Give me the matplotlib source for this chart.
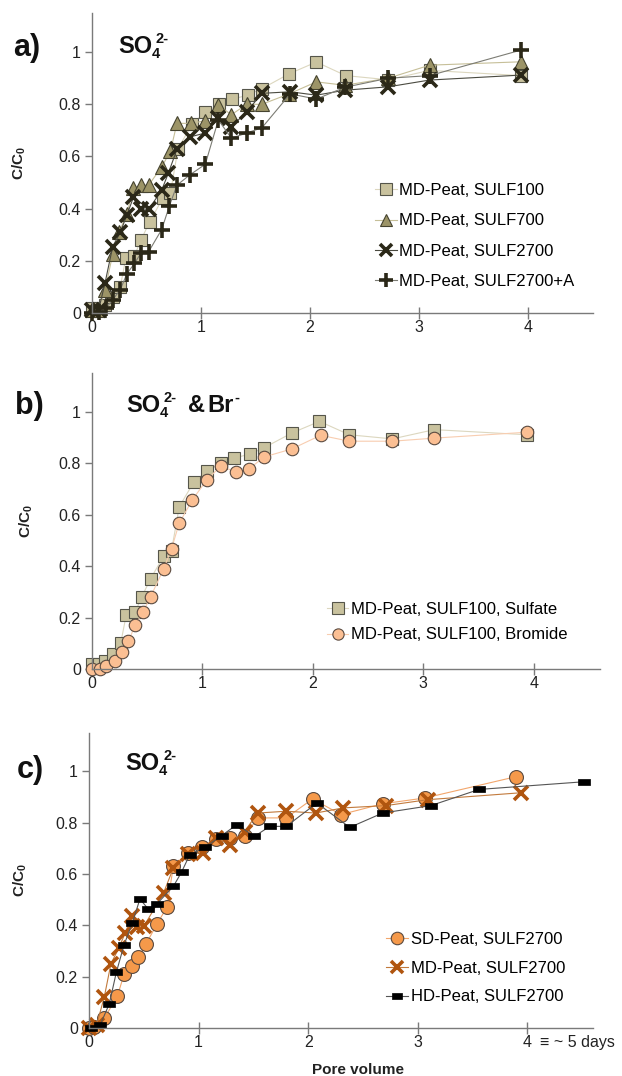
import numpy as np
import matplotlib
matplotlib.use('Agg')
import matplotlib.pyplot as plt

plt.rcParams['font.family'] = ['Liberation Sans', 'DejaVu Sans']
plt.rcParams['mathtext.fontset'] = 'custom'
plt.rcParams['mathtext.rm'] = 'Liberation Sans'
plt.rcParams['mathtext.bf'] = 'Liberation Sans:bold'
plt.rcParams['mathtext.it'] = 'Liberation Sans:italic'

# ---- panel a / b : MD-Peat SULF100 (sulfate)
pv_s100 = [0, 0.06, 0.12, 0.19, 0.26, 0.31, 0.39, 0.45, 0.53, 0.65, 0.72, 0.79,
           0.92, 1.04, 1.17, 1.29, 1.43, 1.56, 1.81, 2.06, 2.33, 2.72, 3.10, 3.94]
c_s100 = [0.02, 0.02, 0.03, 0.06, 0.10, 0.21, 0.22, 0.28, 0.35, 0.44, 0.46, 0.63,
          0.725, 0.77, 0.80, 0.82, 0.835, 0.86, 0.917, 0.962, 0.91, 0.894, 0.93, 0.91]

# MD-Peat SULF700
pv_s700 = [0, 0.06, 0.12, 0.19, 0.25, 0.32, 0.38, 0.45, 0.52, 0.64, 0.72, 0.78,
           0.91, 1.04, 1.16, 1.28, 1.42, 1.56, 1.81, 2.06, 2.32, 2.72, 3.10, 3.94]
c_s700 = [0.01, 0.01, 0.09, 0.225, 0.31, 0.38, 0.478, 0.49, 0.49, 0.56, 0.62, 0.727,
          0.727, 0.737, 0.797, 0.76, 0.80, 0.80, 0.84, 0.886, 0.873, 0.90, 0.95, 0.963]

# MD-Peat SULF2700
pv_s2700 = [0, 0.06, 0.12, 0.19, 0.26, 0.32, 0.38, 0.45, 0.52, 0.64, 0.70, 0.78,
            0.90, 1.04, 1.16, 1.28, 1.42, 1.56, 1.82, 2.06, 2.32, 2.72, 3.10, 3.94]
c_s2700 = [0.01, 0.01, 0.116, 0.254, 0.31, 0.375, 0.443, 0.40, 0.397, 0.471, 0.535, 0.627,
           0.675, 0.69, 0.746, 0.714, 0.771, 0.842, 0.848, 0.835, 0.854, 0.867, 0.893, 0.912]

# MD-Peat SULF2700+A
pv_s2700a = [0, 0.06, 0.13, 0.19, 0.26, 0.32, 0.39, 0.45, 0.52, 0.64, 0.71, 0.78,
             0.90, 1.04, 1.16, 1.28, 1.42, 1.56, 1.82, 2.06, 2.32, 2.72, 3.10, 3.94]
c_s2700a = [0.0, 0.005, 0.02, 0.05, 0.09, 0.15, 0.19, 0.23, 0.235, 0.32, 0.41, 0.49,
            0.53, 0.57, 0.74, 0.67, 0.69, 0.71, 0.84, 0.82, 0.865, 0.90, 0.91, 1.008]

# ---- panel b : bromide
pv_br = [0, 0.07, 0.13, 0.21, 0.27, 0.33, 0.39, 0.46, 0.53, 0.65, 0.72, 0.79,
         0.91, 1.04, 1.17, 1.30, 1.42, 1.56, 1.81, 2.07, 2.33, 2.72, 3.10, 3.94]
c_br = [0.0, 0.0, 0.01, 0.03, 0.065, 0.107, 0.17, 0.22, 0.28, 0.39, 0.467, 0.567,
        0.658, 0.735, 0.79, 0.764, 0.777, 0.824, 0.855, 0.908, 0.885, 0.885, 0.897, 0.92]

# ---- panel c
pv_sd = [0, 0.05, 0.14, 0.26, 0.32, 0.39, 0.45, 0.52, 0.62, 0.71, 0.77, 0.90,
         1.03, 1.16, 1.29, 1.42, 1.54, 1.80, 2.04, 2.30, 2.68, 3.07, 3.90]
c_sd = [0.0, 0.005, 0.038, 0.125, 0.21, 0.243, 0.276, 0.327, 0.405, 0.47, 0.63, 0.683,
        0.707, 0.737, 0.739, 0.747, 0.819, 0.819, 0.893, 0.832, 0.874, 0.897, 0.98]

pv_md = [0, 0.07, 0.14, 0.20, 0.27, 0.33, 0.39, 0.44, 0.50, 0.68, 0.77, 0.905,
         1.04, 1.16, 1.29, 1.42, 1.54, 1.80, 2.07, 2.32, 2.71, 3.09, 3.94]
c_md = [0.0, 0.012, 0.122, 0.25, 0.31, 0.37, 0.435, 0.392, 0.396, 0.526, 0.624, 0.68,
        0.682, 0.74, 0.715, 0.766, 0.838, 0.845, 0.838, 0.858, 0.867, 0.89, 0.917]

pv_hd = [0.02, 0.10, 0.185, 0.25, 0.32, 0.395, 0.465, 0.54, 0.62, 0.77, 0.845, 0.92,
         1.06, 1.21, 1.35, 1.51, 1.65, 1.80, 2.08, 2.38, 2.68, 3.12, 3.56, 4.52]
c_hd = [0.0, 0.01, 0.094, 0.218, 0.324, 0.409, 0.503, 0.464, 0.484, 0.552, 0.608, 0.676,
        0.704, 0.75, 0.793, 0.747, 0.786, 0.786, 0.877, 0.782, 0.838, 0.867, 0.93, 0.96]

yticks = [0, 0.2, 0.4, 0.6, 0.8, 1]
ytick_labels = ['0', '0.2', '0.4', '0.6', '0.8', '1']
xticks = [0, 1, 2, 3, 4]

W, H = 622, 1076
fig = plt.figure(figsize=(W / 100, H / 100), dpi=100)


def px_axes(l, t, r, b):
    return fig.add_axes([l / W, 1 - b / H, (r - l) / W, (b - t) / H])


def ptext(x, y, s, size, **k):
    # text placed at pixel position (x, baseline y)
    fig.text(x / W, 1 - y / H, s, fontsize=size, fontweight='bold',
             va='baseline', ha='left', color='#111111', **k)


def sulfate(x, y):
    ptext(x, y, 'SO', 17)
    ptext(x + 34, y + 5, '4', 10.5)
    ptext(x + 38, y - 10, '2-', 10.5)


def style(ax):
    ax.set_xlim(0, 4.6)
    ax.set_ylim(0, 1.15)
    for s in ['top', 'right']:
        ax.spines[s].set_visible(False)
    for s in ['left', 'bottom']:
        ax.spines[s].set_color('#7a7a7a')
        ax.spines[s].set_linewidth(1.0)
    ax.set_yticks(yticks)
    ax.set_yticklabels(ytick_labels)
    ax.set_xticks(xticks)
    ax.tick_params(axis='y', direction='out', length=5, width=1, color='#7a7a7a',
                   labelsize=11.5, pad=3, labelcolor='#222222')
    ax.tick_params(axis='x', direction='inout', length=8, width=1, color='#7a7a7a',
                   labelsize=11.5, pad=1, labelcolor='#222222')
    ax.set_ylabel('C/C$_\\mathbf{0}$', fontsize=11, fontweight='bold', color='#222222')


kw = dict(clip_on=False, linewidth=0.8)
leg_kw = dict(loc='lower left', frameon=False, fontsize=12, handlelength=1.3,
              handletextpad=0.15, borderpad=0, borderaxespad=0, markerscale=0.9)
bar = [(-1, -0.55), (1, -0.55), (1, 0.55), (-1, 0.55), (-1, -0.55)]

# ---------------- a
ax = px_axes(92, 13, 593, 313)
style(ax)
ax.yaxis.set_label_coords(-64 / 501, 0.5)
ax.plot(pv_s100, c_s100, marker='s', ms=9, mfc='#c9c29e', mec='#55554a', mew=0.8,
        color='#dcd7bf', label='MD-Peat, SULF100', **kw)
ax.plot(pv_s700, c_s700, marker='^', ms=9.5, mfc='#9c9467', mec='#45432f', mew=0.8,
        color='#c6bf98', label='MD-Peat, SULF700', **kw)
ax.plot(pv_s2700, c_s2700, marker='x', ms=10, mec='#2b2818', mew=2.6,
        color='#4a4a40', label='MD-Peat, SULF2700', **kw)
ax.plot(pv_s2700a, c_s2700a, marker='+', ms=11, mec='#2b2818', mew=2.6,
        color='#7c7c74', label='MD-Peat, SULF2700+A', **kw)
ax.legend(bbox_to_anchor=(0.565, 0.08), labelspacing=0.92, **leg_kw)
ptext(13, 56, 'a)', 22)
sulfate(118, 53)

# ---------------- b
ax = px_axes(92, 373, 600, 669)
style(ax)
ax.yaxis.set_label_coords(-57 / 508, 0.5)
ax.plot(pv_s100, c_s100, marker='s', ms=9, mfc='#c9c29e', mec='#55554a', mew=0.8,
        color='#dcd7bf', label='MD-Peat, SULF100, Sulfate', **kw)
ax.plot(pv_br, c_br, marker='o', ms=9, mfc='#fbbf93', mec='#5a4a40', mew=0.8,
        color='#f8cdb0', label='MD-Peat, SULF100, Bromide', **kw)
ax.legend(bbox_to_anchor=(0.462, 0.09), labelspacing=0.62, **leg_kw)
ptext(15, 414, 'b)', 22)
sulfate(126, 412)
ptext(188, 412, '&', 17)
ptext(207, 412, 'Br', 17)
ptext(234, 402, '-', 10.5)

# ---------------- c
ax = px_axes(89, 733, 593, 1028)
style(ax)
ax.yaxis.set_label_coords(-60 / 504, 0.5)
ax.plot(pv_sd, c_sd, marker='o', ms=10, mfc='#f5994a', mec='#5a4a40', mew=0.8,
        color='#f2a66c', label='SD-Peat, SULF2700', **kw)
ax.plot(pv_md, c_md, marker='x', ms=10, mec='#b0550f', mew=2.6,
        color='#c27a3c', label='MD-Peat, SULF2700', **kw)
ax.plot(pv_hd, c_hd, marker=bar, ms=8, mfc='black', mec='black', mew=0.5,
        color='#555555', label='HD-Peat, SULF2700', **kw)
ax.legend(bbox_to_anchor=(0.59, 0.08), labelspacing=0.82, **leg_kw)
ax.set_xlabel('Pore volume', fontsize=11, fontweight='bold', color='#222222',
              labelpad=2)
ax.xaxis.set_label_coords(0.534, -0.118)
ax.annotate('\u2261 ~ 5 days', xy=(4, 0), xycoords=ax.get_xaxis_transform(),
            xytext=(9, -5), textcoords='offset points', ha='left', va='top',
            fontsize=11.5, color='#222222', annotation_clip=False)
ptext(17, 778, 'c)', 22)
sulfate(125, 770)

fig.savefig('out.png', dpi=100)
